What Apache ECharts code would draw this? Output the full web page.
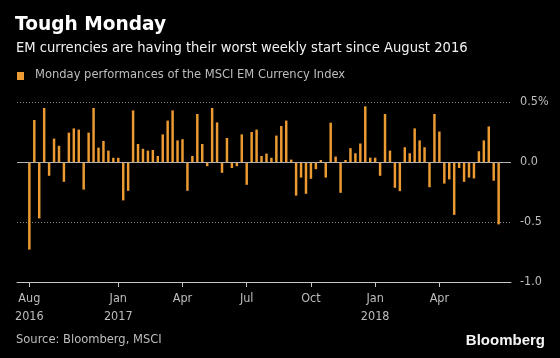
<!DOCTYPE html>
<html>
<head>
<meta charset="utf-8">
<script src="https://cdn.jsdelivr.net/npm/echarts@6/dist/echarts.min.js"></script>
<style>
  html, body { margin: 0; padding: 0; background: #000; }
  #chart { width: 560px; height: 358px; }
</style>
</head>
<body>
<div id="chart"></div>
<script>
// Weekly Monday performances (%) of the MSCI EM Currency Index, 2016-08-29 .. 2018-06-25
const firstWeek = '2016-08-29';
const values = [
  -0.73, 0.35, -0.47, 0.45, -0.115, 0.195, 0.135, -0.165, 0.245, 0.28,
  0.27, -0.23, 0.245, 0.45, 0.12, 0.175, 0.095, 0.035, 0.035, -0.32,
  -0.24, 0.43, 0.15, 0.11, 0.095, 0.10, 0.05, 0.23, 0.345, 0.43,
  0.18, 0.19, -0.24, 0.05, 0.40, 0.15, -0.035, 0.45, 0.33, -0.09,
  0.20, -0.05, -0.035, 0.23, -0.19, 0.25, 0.27, 0.05, 0.07, 0.035,
  0.22, 0.30, 0.345, 0.02, -0.28, -0.13, -0.265, -0.14, -0.06, 0.017,
  -0.13, 0.327, 0.045, -0.257, 0.017, 0.115, 0.073, 0.154, 0.464, 0.036,
  0.036, -0.115, 0.40, 0.095, -0.215, -0.243, 0.123, 0.073, 0.28, 0.18,
  0.123, -0.21, 0.40, 0.254, -0.18, -0.145, -0.44, -0.05, -0.165, -0.13,
  -0.137, 0.09, 0.18, 0.296, -0.156, -0.52
];
const padWeeks = 2; // empty weeks shown on each side of the data
const tickDates = ['2016-08-29', '2017-01-02', '2017-04-03', '2017-07-03', '2017-10-02', '2018-01-01', '2018-04-02'];
const tickLabels = ['Aug\n2016', 'Jan\n2017', 'Apr', 'Jul', 'Oct', 'Jan\n2018', 'Apr'];
const yTicks = [0.5, 0, -0.5, -1.0];
const yTickLabels = ['0.5%', '0.0', '-0.5', '-1.0'];

// build weekly category list (Mondays)
function fmt(d) { return d.toISOString().slice(0, 10); }
const weeks = [];
const seriesData = [];
const start = new Date(firstWeek + 'T00:00:00Z');
for (let i = -padWeeks; i < values.length + padWeeks; i++) {
  const d = new Date(start.getTime() + i * 7 * 86400000);
  weeks.push(fmt(d));
  seriesData.push(i >= 0 && i < values.length ? values[i] : null);
}

const ORANGE = '#ec9b33';
const GREY = '#bdbdbd';
const FONT = "'DejaVu Sans Condensed', 'DejaVu Sans', sans-serif";

const chart = echarts.init(document.getElementById('chart'), null, { renderer: 'canvas' });
chart.setOption({
  backgroundColor: '#000',
  animation: false,
  grid: { left: 17, right: 49, top: 102, bottom: 76 },
  xAxis: {
    type: 'category',
    data: weeks,
    boundaryGap: true,
    axisLine: { show: true, onZero: false, lineStyle: { color: '#c8c8c8', width: 1 } },
    axisTick: {
      show: true, alignWithLabel: true, length: 5,
      lineStyle: { color: '#c8c8c8' },
      interval: (i, v) => tickDates.indexOf(v) >= 0
    },
    axisLabel: {
      interval: (i, v) => tickDates.indexOf(v) >= 0,
      formatter: v => tickLabels[tickDates.indexOf(v)] || '',
      color: GREY, fontFamily: FONT, fontSize: 12.5, lineHeight: 18, margin: 8
    },
    splitLine: { show: false }
  },
  yAxis: {
    type: 'value',
    position: 'right',
    min: -1.0, max: 0.5, interval: 0.5,
    axisLine: { show: false },
    axisTick: { show: false },
    axisLabel: {
      color: GREY, fontFamily: FONT, fontSize: 12.5, margin: 9,
      formatter: v => {
        const k = yTicks.findIndex(t => Math.abs(t - v) < 1e-9);
        return k >= 0 ? yTickLabels[k] : '';
      }
    },
    splitLine: { show: true, lineStyle: { color: '#8a8a8a', type: [1, 2], width: 1 } }
  },
  series: [{
    type: 'bar',
    data: seriesData,
    barWidth: '50%',
    itemStyle: { color: ORANGE },
    markLine: {
      silent: true, symbol: 'none', label: { show: false },
      lineStyle: { color: '#b0b0b0', type: 'solid', width: 1 },
      data: [{ yAxis: 0 }]
    }
  }],
  graphic: [
    { type: 'text', left: 15, top: 16, style: { text: 'Tough Monday', fill: '#fff', font: "bold 18.6px 'DejaVu Sans', sans-serif" } },
    { type: 'text', left: 16, top: 41, style: { text: 'EM currencies are having their worst weekly start since August 2016', fill: '#f2f2f2', font: "14.6px " + FONT } },
    { type: 'rect', left: 17, top: 72, shape: { width: 7, height: 8 }, style: { fill: ORANGE } },
    { type: 'text', left: 35, top: 68, style: { text: 'Monday performances of the MSCI EM Currency Index', fill: GREY, font: "12.8px " + FONT } },
    { type: 'text', left: 16, top: 333, style: { text: 'Source: Bloomberg, MSCI', fill: GREY, font: "12.8px " + FONT } },
    { type: 'text', right: 15, top: 333, style: { text: 'Bloomberg', fill: '#f5f5f5', font: "bold 15px 'Liberation Sans', Arial, sans-serif" } }
  ]
});
</script>
</body>
</html>
